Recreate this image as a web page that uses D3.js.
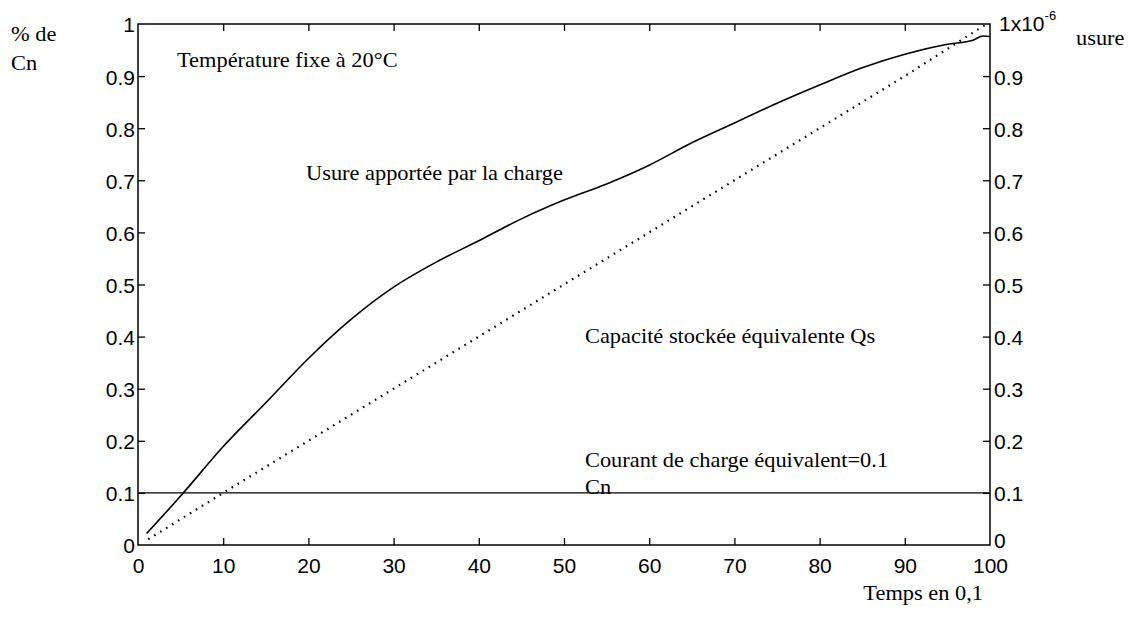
<!DOCTYPE html>
<html><head><meta charset="utf-8">
<script src="https://cdn.jsdelivr.net/npm/d3@7"></script>
<style>
body{margin:0;background:#fff;}
svg{display:block;}
.tick text{font-family:"Liberation Sans",Arial,sans-serif;font-size:21px;fill:#000;}
.serif{font-family:"Liberation Serif","Times New Roman",serif;font-size:20px;fill:#000;}
</style>
</head><body>
<svg id="c" width="1131" height="618"></svg>
<script>
// ---- data ----
const xTicks = [0,10,20,30,40,50,60,70,80,90,100];
const yTicks = [0,0.1,0.2,0.3,0.4,0.5,0.6,0.7,0.8,0.9,1];
const yTickLabels = ["0","0.1","0.2","0.3","0.4","0.5","0.6","0.7","0.8","0.9","1"];
const yRightLabels = ["0","0.1","0.2","0.3","0.4","0.5","0.6","0.7","0.8","0.9",""];
// Usure apportée par la charge (solid)
const usureX = [1,5,10,15,20,25,30,35,40,45,50,55,60,65,70,75,80,85,90,95,98,99.2,100];
const usureY = [0.022,0.094,0.189,0.273,0.358,0.433,0.495,0.543,0.584,0.626,0.662,0.693,0.729,0.772,0.81,0.848,0.883,0.916,0.942,0.961,0.969,0.977,0.976];
// Capacité stockée équivalente Qs (dotted)
const qsX = [1.2,10,20,30,40,50,60,70,80,90,99.4];
const qsY = [0.011,0.1,0.2,0.3,0.4,0.5,0.6,0.7,0.8,0.9,0.998];
// Courant de charge équivalent = 0.1 Cn (horizontal)
const courantX = [0,100];
const courantY = [0.1,0.1];

// ---- layout ----
const L=138,R=990,T=24,B=545;
const svg=d3.select("#c");
const x=d3.scaleLinear().domain([0,100]).range([L,R]);
const y=d3.scaleLinear().domain([0,1]).range([B,T]);

// frame
svg.append("rect").attr("x",L).attr("y",T).attr("width",R-L).attr("height",B-T)
  .attr("fill","none").attr("stroke","#000").attr("stroke-width",1.5);

function styleAxis(g){g.select(".domain").remove();g.selectAll(".tick line").attr("stroke","#000").attr("stroke-width",1.3);}

const xb=svg.append("g").attr("transform",`translate(0,${B})`)
  .call(d3.axisBottom(x).tickValues(xTicks).tickFormat(d3.format("d")).tickSize(-7).tickPadding(13));
styleAxis(xb);
xb.selectAll(".tick").filter(d=>d===0||d===100).select("line").remove();

const xt=svg.append("g").attr("transform",`translate(0,${T})`)
  .call(d3.axisTop(x).tickValues(xTicks.filter(d=>d>0&&d<100)).tickFormat("").tickSize(-7));
styleAxis(xt);

const yl=svg.append("g").attr("transform",`translate(${L},0)`)
  .call(d3.axisLeft(y).tickValues(yTicks).tickFormat((d,i)=>yTickLabels[i]).tickSize(-7).tickPadding(3));
styleAxis(yl);
yl.selectAll(".tick").filter(d=>d===0||d===1).select("line").remove();
yl.selectAll(".tick text").attr("dy","0.38em");

const yr=svg.append("g").attr("transform",`translate(${R},0)`)
  .call(d3.axisRight(y).tickValues(yTicks).tickFormat((d,i)=>yRightLabels[i]).tickSize(-7).tickPadding(4));
styleAxis(yr);
yr.selectAll(".tick").filter(d=>d===0||d===1).select("line").remove();
yr.selectAll(".tick text").attr("dy","0.38em");
yr.selectAll(".tick").filter(d=>d===0).select("text").attr("dy","0.1em");

// right top label 1x10^-6
const sup=svg.append("text").attr("x",R+9).attr("y",y(1)+7)
  .attr("font-family","Liberation Sans,Arial,sans-serif").attr("font-size",21);
sup.append("tspan").text("1x10");
sup.append("tspan").attr("font-size",13).attr("dy",-11).text("-6");

// lines
const line=d3.line().x(d=>x(d[0])).y(d=>y(d[1]));
svg.append("path").datum(courantX.map((v,i)=>[v,courantY[i]]))
  .attr("d",line).attr("fill","none").attr("stroke","#000").attr("stroke-width",1.3);
svg.append("path").datum(usureX.map((v,i)=>[v,usureY[i]]))
  .attr("d",d3.line().x(d=>x(d[0])).y(d=>y(d[1])).curve(d3.curveMonotoneX))
  .attr("fill","none").attr("stroke","#000").attr("stroke-width",1.6);
svg.append("path").datum(qsX.map((v,i)=>[v,qsY[i]]))
  .attr("d",line).attr("fill","none").attr("stroke","#000").attr("stroke-width",2.2)
  .attr("stroke-dasharray","1.6,5.4");

// annotations
const ann=[
  ["% de",11,41,"start"],["Cn",11,70,"start"],["usure",1076,45,"start"],
  ["Température fixe à 20°C",177,67,"start"],
  ["Usure apportée par la charge",306,180,"start"],
  ["Capacité stockée équivalente Qs",585,343,"start"],
  ["Courant de charge équivalent=0.1",585,467,"start"],
  ["Cn",585,494,"start"],
  ["Temps en 0,1",983,600,"end"]
];
svg.selectAll("text.serif").data(ann).enter().append("text").attr("class","serif")
  .attr("text-anchor",d=>d[3])
  .attr("transform",d=>`translate(${d[1]},${d[2]}) scale(1.12,1)`).text(d=>d[0]);
</script>
</body></html>
